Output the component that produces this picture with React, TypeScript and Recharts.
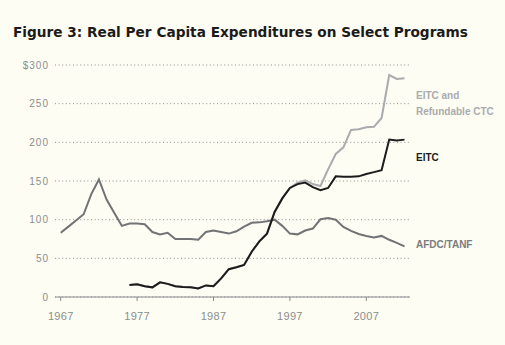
import React from 'react';
import { LineChart, Line, XAxis, YAxis, CartesianGrid } from 'recharts';

// fiscal years, one point each
const years: number[] = [
    1967, 1968, 1969, 1970, 1971, 1972, 1973, 1974, 1975, 1976,
    1977, 1978, 1979, 1980, 1981, 1982, 1983, 1984, 1985, 1986,
    1987, 1988, 1989, 1990, 1991, 1992, 1993, 1994, 1995, 1996,
    1997, 1998, 1999, 2000, 2001, 2002, 2003, 2004, 2005, 2006,
    2007, 2008, 2009, 2010, 2011, 2012
];

const afdcTanf: number[] = [
    83, 91, 99, 107, 133, 152, 126, 109, 92, 95,
    95, 94, 84, 81, 83, 75, 75, 75, 74, 84,
    86, 84, 82, 85, 91, 96, 96.5, 98, 100, 92,
    82, 81, 86, 88.5, 100.5, 102, 100, 90.5, 85.5, 81.5,
    79, 77, 79, 74, 70, 65.5
];

const eitc: (number | null)[] = [
    null, null, null, null, null, null, null, null, null, 15.5,
    16.5, 14, 12.5, 19, 17, 14, 13, 12.5, 11, 15,
    14, 24, 36, 38.5, 41.5, 58.5, 72, 82, 110, 127.5,
    141, 146, 148, 142, 138, 141, 156, 155.5, 155.5, 156,
    159, 161.5, 164, 203.5, 202.5, 203.5
];

const eitcCtc: (number | null)[] = [
    null, null, null, null, null, null, null, null, null, 15.5,
    16.5, 14, 12.5, 19, 17, 14, 13, 12.5, 11, 15,
    14, 24, 36, 38.5, 41.5, 58.5, 72, 82, 110, 127.5,
    141, 148, 151, 146, 143.5, 165, 185, 193.5, 216, 217,
    219.5, 220, 231.5, 287, 282, 283
];

const xTicks = [1967, 1977, 1987, 1997, 2007];
const yTicks = [0, 50, 100, 150, 200, 250, 300];

const chartData = years.map((year, i) => ({
    year,
    afdc: afdcTanf[i],
    eitc: eitc[i],
    eitcCtc: eitcCtc[i]
}));

const BG = '#fdfdf3';
const TICK_COLOR = '#8b8d8f';

const XTick = ({ x, y, payload }: any) => (
    <text
        x={x}
        y={y + 17}
        textAnchor="middle"
        fontSize={11}
        letterSpacing={0.3}
        fill={TICK_COLOR}
        fontFamily="'Liberation Sans', Arial, sans-serif"
    >
        {payload.value}
    </text>
);

const YTick = ({ x, y, payload }: any) => (
    <text
        x={x}
        y={y}
        dy="0.36em"
        textAnchor="end"
        fontSize={10}
        letterSpacing={1}
        fill={TICK_COLOR}
        fontFamily="'Liberation Sans', Arial, sans-serif"
    >
        {payload.value === 300 ? '$300' : payload.value}
    </text>
);

const labelStyle: React.CSSProperties = {
    position: 'absolute',
    left: 416,
    fontSize: '10px',
    fontWeight: 'bold',
    lineHeight: '16px',
    whiteSpace: 'nowrap'
};

export default function App() {
    return (
        <div style={{
            position: 'absolute',
            left: 0,
            top: 0,
            width: 505,
            height: 345,
            background: BG,
            fontFamily: "'Liberation Sans', Arial, sans-serif",
            overflow: 'hidden'
        }}>
            <svg width={505} height={50} style={{ position: 'absolute', left: 0, top: 0 }}>
                <text
                    x={13}
                    y={36.5}
                    textLength={455}
                    lengthAdjust="spacingAndGlyphs"
                    fontSize={14}
                    fontWeight="bold"
                    fill="#1b1b1b"
                    fontFamily="'DejaVu Sans', sans-serif"
                >
                    Figure 3: Real Per Capita Expenditures on Select Programs
                </text>
            </svg>

            <div style={{ position: 'absolute', left: 0, top: 0 }}>
                <LineChart
                    width={505}
                    height={345}
                    data={chartData}
                    margin={{ top: 65, right: 95, left: 0, bottom: 0 }}
                >
                    <CartesianGrid
                        vertical={false}
                        stroke="#8f9193"
                        strokeDasharray="1 2.6"
                    />
                    <XAxis
                        dataKey="year"
                        type="number"
                        domain={[1966.25, 2012.72]}
                        ticks={xTicks}
                        height={48}
                        tickSize={4}
                        tickMargin={2}
                        stroke="#8a8c8e"
                        tick={<XTick />}
                        allowDataOverflow
                    />
                    <YAxis
                        domain={[0, 300]}
                        ticks={yTicks}
                        width={55}
                        axisLine={false}
                        tickLine={false}
                        tickSize={0}
                        tickMargin={6}
                        tick={<YTick />}
                    />
                    <Line
                        dataKey="eitcCtc"
                        stroke="#a9abae"
                        strokeWidth={2}
                        dot={false}
                        isAnimationActive={false}
                    />
                    <Line
                        dataKey="afdc"
                        stroke="#717375"
                        strokeWidth={2}
                        dot={false}
                        isAnimationActive={false}
                    />
                    <Line
                        dataKey="eitc"
                        stroke="#1c1c1c"
                        strokeWidth={2}
                        dot={false}
                        isAnimationActive={false}
                    />
                </LineChart>
            </div>

            {/* series labels at the right */}
            <div style={{ ...labelStyle, top: 88, color: '#a9abae' }}>
                EITC and<br />Refundable CTC
            </div>
            <div style={{ ...labelStyle, top: 150, color: '#1c1c1c' }}>EITC</div>
            <div style={{ ...labelStyle, top: 237, color: '#7a7c7e' }}>AFDC/TANF</div>
        </div>
    );
}
